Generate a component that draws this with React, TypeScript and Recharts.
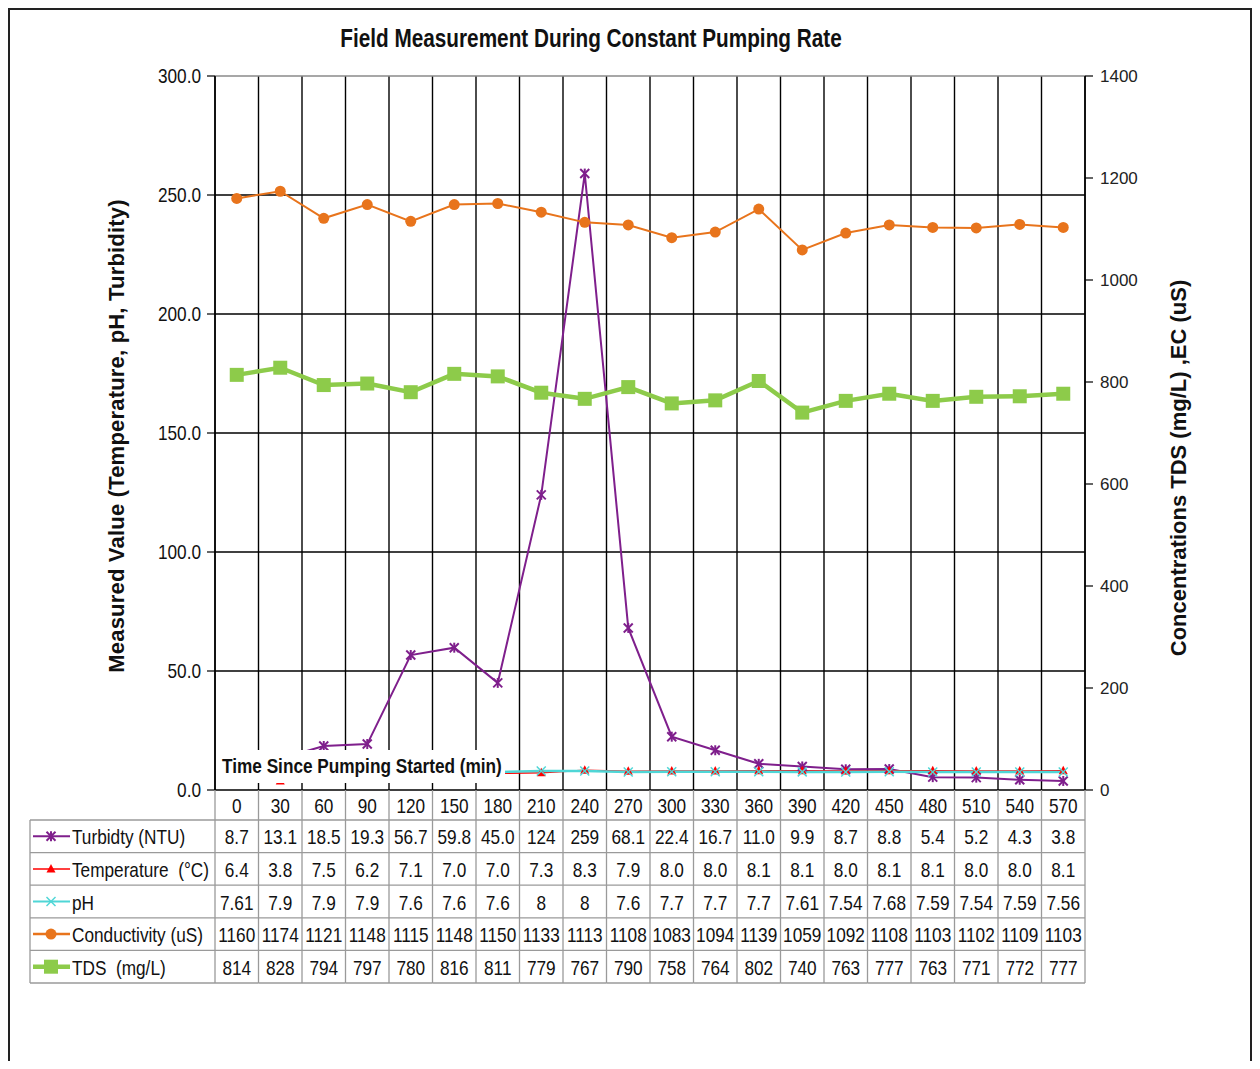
import React from 'react';
import {
  CartesianGrid,
  ComposedChart,
  Line,
  ReferenceLine,
  XAxis,
  YAxis,
} from 'recharts';

const times = [0, 30, 60, 90, 120, 150, 180, 210, 240, 270, 300, 330, 360, 390, 420, 450, 480, 510, 540, 570];
const turbidity = [8.7, 13.1, 18.5, 19.3, 56.7, 59.8, 45.0, 124, 259, 68.1, 22.4, 16.7, 11.0, 9.9, 8.7, 8.8, 5.4, 5.2, 4.3, 3.8];
const temperature = [6.4, 3.8, 7.5, 6.2, 7.1, 7.0, 7.0, 7.3, 8.3, 7.9, 8.0, 8.0, 8.1, 8.1, 8.0, 8.1, 8.1, 8.0, 8.0, 8.1];
const ph = [7.61, 7.9, 7.9, 7.9, 7.6, 7.6, 7.6, 8, 8, 7.6, 7.7, 7.7, 7.7, 7.61, 7.54, 7.68, 7.59, 7.54, 7.59, 7.56];
const conductivity = [1160, 1174, 1121, 1148, 1115, 1148, 1150, 1133, 1113, 1108, 1083, 1094, 1139, 1059, 1092, 1108, 1103, 1102, 1109, 1103];
const tds = [814, 828, 794, 797, 780, 816, 811, 779, 767, 790, 758, 764, 802, 740, 763, 777, 763, 771, 772, 777];

const leftTicks = [0, 50, 100, 150, 200, 250, 300];
const rightTicks = [0, 200, 400, 600, 800, 1000, 1200, 1400];

const data = times.map((t, i) => ({
  time: t,
  turbidity: turbidity[i],
  temperature: temperature[i],
  ph: ph[i],
  conductivity: conductivity[i],
  tds: tds[i],
}));

const SANS = '"Liberation Sans", Arial, sans-serif';
const SQUEEZE = 0.82; // no narrow font installed, so squeeze Liberation Sans

const COLORS = {
  turbidity: '#7F1F8C',
  temperature: '#FF0000',
  ph: '#4FD6D6',
  conductivity: '#E8741C',
  tds: '#8DCB4A',
};

// chart geometry (inside the bordered frame)
const CHART_W = 1240;
const CHART_H = 1000;
const PLOT_LEFT = 205;
const PLOT_RIGHT = 1075;
const PLOT_TOP = 66;
const PLOT_BOTTOM = 780;
const AXIS_W = 60;
const XAXIS_H = 200;
const BAND = (PLOT_RIGHT - PLOT_LEFT) / times.length;

const HEADER_H = 30;
const ROW_H = 32.6;
const LABEL_W = 185;
const GRID_STROKE = '#9a9a9a';

// narrow text: Liberation Sans squeezed horizontally
const NText = ({
  x,
  y,
  children,
  size = 21,
  anchor = 'middle',
  bold = false,
  scale = SQUEEZE,
}: {
  x: number;
  y: number;
  children: React.ReactNode;
  size?: number;
  anchor?: 'start' | 'middle' | 'end';
  bold?: boolean;
  scale?: number;
}) => (
  <g transform={`translate(${x},${y}) scale(${scale},1)`}>
    <text
      x={0}
      y={0}
      textAnchor={anchor}
      dominantBaseline="central"
      style={{ fontFamily: SANS, fontSize: size, fontWeight: bold ? 'bold' : 'normal', fill: '#111', whiteSpace: 'pre' }}
    >
      {children}
    </text>
  </g>
);

type MarkerKind = 'star' | 'triangle' | 'x' | 'circle' | 'square';

const Marker = ({ kind, cx, cy, color }: { kind: MarkerKind; cx: number; cy: number; color: string }) => {
  if (kind === 'star') {
    return (
      <g stroke={color} strokeWidth={2}>
        <line x1={cx - 4.5} y1={cy - 4.5} x2={cx + 4.5} y2={cy + 4.5} />
        <line x1={cx - 4.5} y1={cy + 4.5} x2={cx + 4.5} y2={cy - 4.5} />
        <line x1={cx} y1={cy - 5} x2={cx} y2={cy + 5} />
      </g>
    );
  }
  if (kind === 'triangle') {
    return <polygon points={`${cx},${cy - 5} ${cx + 4.5},${cy + 3.5} ${cx - 4.5},${cy + 3.5}`} fill={color} />;
  }
  if (kind === 'x') {
    return (
      <g stroke={color} strokeWidth={1.5}>
        <line x1={cx - 4.5} y1={cy - 4.5} x2={cx + 4.5} y2={cy + 4.5} />
        <line x1={cx - 4.5} y1={cy + 4.5} x2={cx + 4.5} y2={cy - 4.5} />
      </g>
    );
  }
  if (kind === 'circle') {
    return <circle cx={cx} cy={cy} r={5.5} fill={color} />;
  }
  return <rect x={cx - 7} y={cy - 7} width={14} height={14} fill={color} />;
};

const dotFor = (kind: MarkerKind, color: string) => (props: any) => {
  const { cx, cy, index } = props;
  if (cx == null || cy == null) return <g key={index} />;
  return (
    <g key={index}>
      <Marker kind={kind} cx={cx} cy={cy} color={color} />
    </g>
  );
};

const fmtTurb = (v: number) => (v >= 100 ? String(v) : v.toFixed(1));

const rows = [
  { label: 'Turbidty (NTU)', kind: 'star' as MarkerKind, color: COLORS.turbidity, width: 2, values: turbidity.map(fmtTurb) },
  { label: 'Temperature  (°C)', kind: 'triangle' as MarkerKind, color: COLORS.temperature, width: 1.5, values: temperature.map((v) => v.toFixed(1)) },
  { label: 'pH', kind: 'x' as MarkerKind, color: COLORS.ph, width: 2, values: ph.map((v) => String(v)) },
  { label: 'Conductivity (uS)', kind: 'circle' as MarkerKind, color: COLORS.conductivity, width: 2.5, values: conductivity.map((v) => String(v)) },
  { label: 'TDS  (mg/L)', kind: 'square' as MarkerKind, color: COLORS.tds, width: 4.5, values: tds.map((v) => String(v)) },
];

const TableTick = (props: any) => {
  const { x, y, payload } = props;
  const i = payload.index ?? times.indexOf(payload.value);
  const left = x - BAND / 2;
  const right = x + BAND / 2;
  const bottom = y + HEADER_H + ROW_H * rows.length;

  return (
    <g>
      <line x1={left} y1={y} x2={left} y2={bottom} stroke={GRID_STROKE} strokeWidth={1.3} />
      {i === times.length - 1 && (
        <line x1={right} y1={y} x2={right} y2={bottom} stroke={GRID_STROKE} strokeWidth={1.3} />
      )}
      <NText x={x} y={y + HEADER_H / 2 + 1}>{payload.value}</NText>
      {rows.map((r, ri) => {
        const top = y + HEADER_H + ROW_H * ri;
        return (
          <g key={r.label}>
            <line x1={left} y1={top} x2={right} y2={top} stroke={GRID_STROKE} strokeWidth={1.3} />
            <NText x={x} y={top + ROW_H / 2 + 1}>{r.values[i]}</NText>
          </g>
        );
      })}
      <line x1={left} y1={bottom} x2={right} y2={bottom} stroke={GRID_STROKE} strokeWidth={1.3} />
      {i === 0 && (
        <g>
          <line x1={left - LABEL_W} y1={y + HEADER_H} x2={left - LABEL_W} y2={bottom} stroke={GRID_STROKE} strokeWidth={1.3} />
          {rows.map((r, ri) => {
            const top = y + HEADER_H + ROW_H * ri;
            const cy = top + ROW_H / 2;
            const kx = left - LABEL_W + 3;
            return (
              <g key={r.label}>
                <line x1={left - LABEL_W} y1={top} x2={left} y2={top} stroke={GRID_STROKE} strokeWidth={1.3} />
                <line x1={kx} y1={cy} x2={kx + 37} y2={cy} stroke={r.color} strokeWidth={r.width} />
                <Marker kind={r.kind} cx={kx + 18} cy={cy} color={r.color} />
                <NText x={kx + 39} y={cy + 1} anchor="start">{r.label}</NText>
              </g>
            );
          })}
          <line x1={left - LABEL_W} y1={bottom} x2={left} y2={bottom} stroke={GRID_STROKE} strokeWidth={1.3} />
        </g>
      )}
    </g>
  );
};

const LeftTick = (props: any) => {
  const { x, y, payload } = props;
  return <NText x={x} y={y} anchor="end">{Number(payload.value).toFixed(1)}</NText>;
};

export default function App() {
  return (
    <div
      style={{
        position: 'relative',
        width: 1244,
        height: 1053,
        borderTop: '2px solid #222',
        borderLeft: '2px solid #222',
        borderRight: '2px solid #222',
        boxSizing: 'border-box',
        background: '#fff',
        fontFamily: SANS,
        overflow: 'hidden',
      }}
    >
      <div style={{ position: 'absolute', left: 0, top: 0 }}>
        <ComposedChart
          width={CHART_W}
          height={CHART_H}
          data={data}
          margin={{
            top: PLOT_TOP,
            left: PLOT_LEFT - AXIS_W,
            right: CHART_W - PLOT_RIGHT - AXIS_W,
            bottom: CHART_H - PLOT_BOTTOM - XAXIS_H,
          }}
        >
          <CartesianGrid
            yAxisId="left"
            stroke="#000"
            strokeWidth={1.4}
            horizontalCoordinatesGenerator={({ offset }: any) =>
              leftTicks.filter((t) => t > 0 && t < 300).map((t) => offset.top + offset.height * (1 - t / 300))
            }
            verticalCoordinatesGenerator={({ offset }: any) =>
              Array.from({ length: times.length + 1 }, (_, k) => offset.left + (k * offset.width) / times.length)
            }
          />
          <ReferenceLine yAxisId="left" y={300} stroke="#8a8a8a" strokeWidth={1.5} />
          <XAxis
            dataKey="time"
            scale="band"
            interval={0}
            height={XAXIS_H}
            tickLine={false}
            tickSize={0}
            tickMargin={0}
            axisLine={{ stroke: '#000', strokeWidth: 1.5 }}
            tick={<TableTick />}
          />
          <YAxis
            yAxisId="left"
            width={AXIS_W}
            domain={[0, 300]}
            ticks={leftTicks}
            tickSize={8}
            tickMargin={6}
            axisLine={{ stroke: '#000', strokeWidth: 1.5 }}
            tickLine={{ stroke: '#000', strokeWidth: 1.2 }}
            tick={<LeftTick />}
          />
          <YAxis
            yAxisId="right"
            orientation="right"
            width={AXIS_W}
            domain={[0, 1400]}
            ticks={rightTicks}
            tickSize={8}
            tickMargin={7}
            axisLine={{ stroke: '#000', strokeWidth: 1.5 }}
            tickLine={{ stroke: '#000', strokeWidth: 1.2 }}
            tick={{ fontFamily: SANS, fontSize: 17, fill: '#222' }}
          />
          <Line
            yAxisId="left"
            dataKey="turbidity"
            stroke={COLORS.turbidity}
            strokeWidth={2}
            dot={dotFor('star', COLORS.turbidity)}
            activeDot={false}
            isAnimationActive={false}
          />
          <Line
            yAxisId="left"
            dataKey="temperature"
            stroke={COLORS.temperature}
            strokeWidth={1.5}
            dot={dotFor('triangle', COLORS.temperature)}
            activeDot={false}
            isAnimationActive={false}
          />
          <Line
            yAxisId="left"
            dataKey="ph"
            stroke={COLORS.ph}
            strokeWidth={2.5}
            dot={dotFor('x', COLORS.ph)}
            activeDot={false}
            isAnimationActive={false}
          />
          <Line
            yAxisId="right"
            dataKey="conductivity"
            stroke={COLORS.conductivity}
            strokeWidth={2}
            dot={dotFor('circle', COLORS.conductivity)}
            activeDot={false}
            isAnimationActive={false}
          />
          <Line
            yAxisId="right"
            dataKey="tds"
            stroke={COLORS.tds}
            strokeWidth={4.5}
            dot={dotFor('square', COLORS.tds)}
            activeDot={false}
            isAnimationActive={false}
          />
        </ComposedChart>
      </div>
      <svg
        width={CHART_W}
        height={CHART_H}
        style={{ position: 'absolute', left: 0, top: 0, pointerEvents: 'none' }}
      >
        <NText x={581} y={28} size={25} bold scale={0.83}>
          Field Measurement During Constant Pumping Rate
        </NText>
        <text
          transform="translate(106 426) rotate(-90)"
          textAnchor="middle"
          dominantBaseline="central"
          style={{ fontFamily: SANS, fontSize: 22, fontWeight: 'bold', fill: '#111', letterSpacing: 0.2 }}
        >
          Measured Value (Temperature, pH, Turbidity)
        </text>
        <text
          transform="translate(1168 458) rotate(-90)"
          textAnchor="middle"
          dominantBaseline="central"
          style={{ fontFamily: SANS, fontSize: 22, fontWeight: 'bold', fill: '#111' }}
        >
          Concentrations TDS (mg/L) ,EC (uS)
        </text>
        <rect x={PLOT_LEFT + 1} y={740} width={289} height={33} fill="#fff" />
        <NText x={212} y={756} anchor="start" bold>
          Time Since Pumping Started (min)
        </NText>
      </svg>
    </div>
  );
}
